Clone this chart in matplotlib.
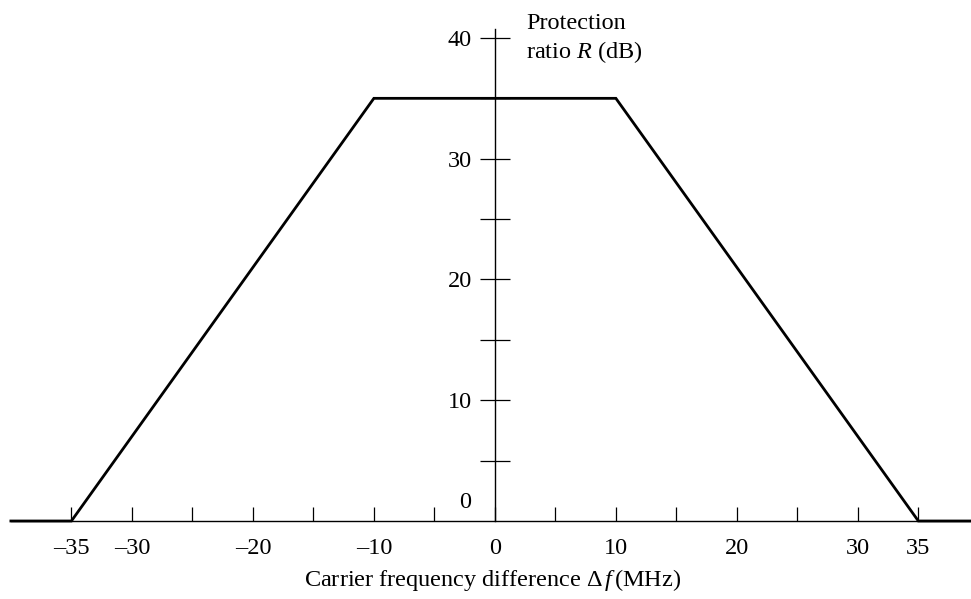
import matplotlib
matplotlib.use("Agg")
import matplotlib.pyplot as plt

# protection ratio mask (MHz, dB)
freq = [-40, -35, -10, 10, 35, 40]
ratio = [0, 0, 35, 35, 0, 0]

xtick_major = [-35, -30, -20, -10, 0, 10, 20, 30, 35]
xtick_labels = ["\u201335", "\u201330", "\u201320", "\u201310", "0", "10", "20", "30", "35"]
xtick_minor = [-25, -15, -5, 5, 15, 25]
ytick_major = [10, 20, 30, 40]
ytick_minor = [5, 15, 25, 35]

plt.rcParams["font.family"] = ["Liberation Serif", "DejaVu Serif"]
plt.rcParams["mathtext.fontset"] = "custom"
plt.rcParams["mathtext.rm"] = "Liberation Serif"
plt.rcParams["mathtext.it"] = "Liberation Serif:italic"

fs = 17.5

fig = plt.figure(figsize=(9.71, 5.99), dpi=100)
ax = fig.add_axes([0, 78 / 599, 1, 491.5 / 599])

ax.plot(freq, ratio, color="black", lw=2.0, clip_on=False, solid_joinstyle="miter", zorder=3)

ax.set_xlim(-40.9, 39.35)
ax.set_ylim(0, 40.7)

for s in ["top", "right"]:
    ax.spines[s].set_visible(False)
ax.spines["left"].set_position(("data", 0))
ax.spines["bottom"].set_position(("data", 0))
ax.spines["left"].set_bounds(0, 40.7)
ax.spines["bottom"].set_bounds(-40, 40)
for s in ["left", "bottom"]:
    ax.spines[s].set_linewidth(1.0)

ax.set_xticks(xtick_major)
ax.set_xticklabels(xtick_labels)
ax.set_xticks(xtick_minor, minor=True)
ax.tick_params(axis="x", which="both", direction="in", length=10, width=0.9,
               pad=12, labelsize=fs)

ax.set_yticks(ytick_major)
ax.set_yticklabels([str(v) for v in ytick_major])
ax.set_yticks(ytick_minor, minor=True)
ax.tick_params(axis="y", which="both", direction="inout", length=22, width=0.9,
               pad=5.5, labelsize=fs)

ax.text(-2.5, 1.5, "0", ha="center", va="center", fontsize=fs)
ax.text(2.6, 39.9, "Protection\nratio $R$ (dB)", ha="left", va="center",
        fontsize=fs, linespacing=1.28)

ax.text(-0.2, -4.9, "Carrier frequency difference \u0394$\\,f\\,$(MHz)", ha="center",
        va="center", fontsize=fs, clip_on=False)

fig.savefig("out.png", dpi=100)
